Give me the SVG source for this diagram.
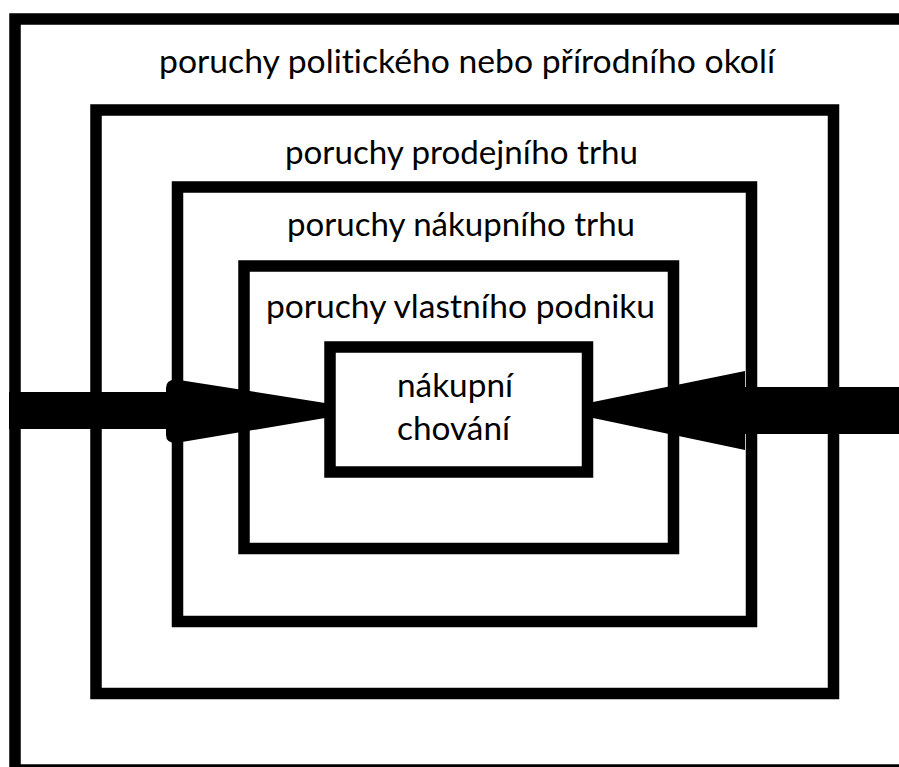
<svg xmlns="http://www.w3.org/2000/svg" width="899" height="767" viewBox="0 0 899 767">
  <style>
    .box { fill: none; stroke: #000; stroke-width: 11.5; }
    .lbl { font-family: Lato, "Open Sans", "Liberation Sans", sans-serif; font-size: 33.5px; fill: #000; text-anchor: middle; font-variant-ligatures: none; font-feature-settings: "liga" 0, "clig" 0; }
    .arr { fill: #000; stroke: none; }
  </style>
  <rect x="0" y="0" width="899" height="767" fill="#fff"/>
  <g id="okoli">
    <rect class="box" x="15" y="19" width="905" height="751"/>
    <text class="lbl" x="467" y="73" textLength="616" lengthAdjust="spacingAndGlyphs">poruchy politického nebo přírodního okolí</text>
  </g>
  <g id="prodejni-trh">
    <rect class="box" x="96" y="110" width="737.5" height="583.5"/>
    <text class="lbl" x="461.5" y="164" textLength="353" lengthAdjust="spacingAndGlyphs">poruchy prodejního trhu</text>
  </g>
  <g id="nakupni-trh">
    <rect class="box" x="177.5" y="187" width="574" height="434.5"/>
    <text class="lbl" x="461" y="236" textLength="348" lengthAdjust="spacingAndGlyphs">poruchy nákupního trhu</text>
  </g>
  <g id="vlastni-podnik">
    <rect class="box" x="244" y="266" width="429.5" height="282.5"/>
    <text class="lbl" x="460.5" y="318" textLength="389" lengthAdjust="spacingAndGlyphs">poruchy vlastního podniku</text>
  </g>
  <g id="nakupni-chovani">
    <rect class="box" x="330" y="347" width="257.5" height="125"/>
    <text class="lbl" x="455" y="397" textLength="116" lengthAdjust="spacingAndGlyphs">nákupní</text>
    <text class="lbl" x="453.5" y="440" textLength="113" lengthAdjust="spacingAndGlyphs">chování</text>
  </g>
  <g id="connectors">
    <g id="arrow-left">
      <rect class="arr" x="9" y="392" width="165" height="37"/>
      <path class="arr" d="M 166 388 Q 166 379.5 176 379.5 L 325 403 L 325 418 L 176 443 Q 166 443 166 435 Z"/>
    </g>
    <g id="arrow-right">
      <rect class="arr" x="744" y="387" width="160" height="47"/>
      <polygon class="arr" points="745,371 593,402 593,418 745,450"/>
    </g>
  </g>
</svg>
